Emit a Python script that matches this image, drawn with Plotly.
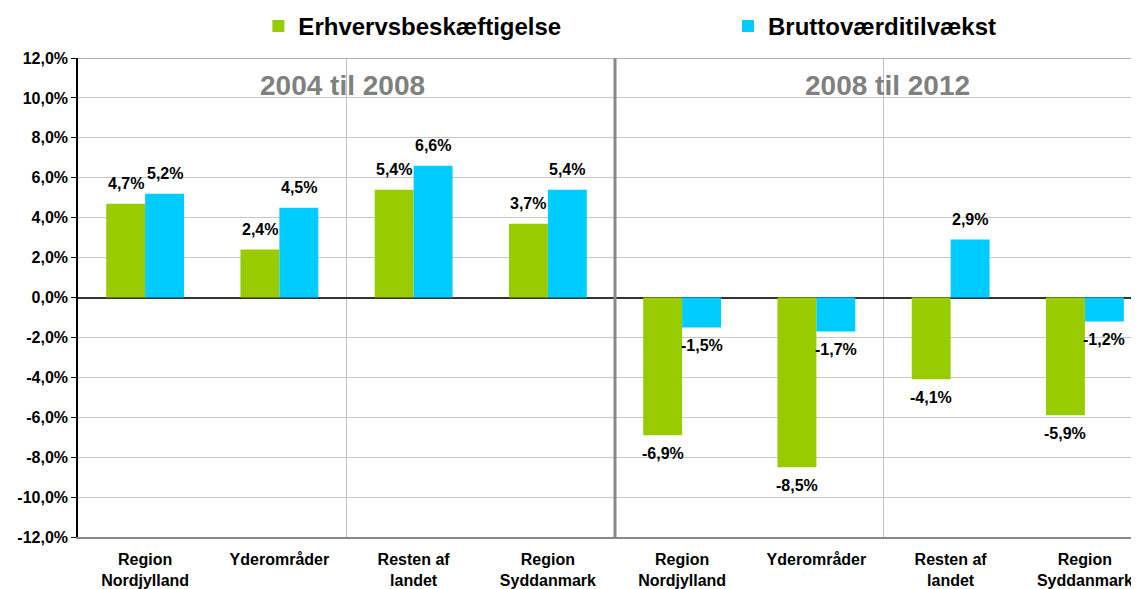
import plotly.graph_objects as go

categories = ["Region<br>Nordjylland", "Yderområder", "Resten af<br>landet", "Region<br>Syddanmark",
              "Region<br>Nordjylland", "Yderområder", "Resten af<br>landet", "Region<br>Syddanmark"]
erhverv = [4.7, 2.4, 5.4, 3.7, -6.9, -8.5, -4.1, -5.9]
brutto = [5.2, 4.5, 6.6, 5.4, -1.5, -1.7, 2.9, -1.2]
series_names = ["Erhvervsbeskæftigelse", "Bruttoværditilvækst"]
period_labels = ["2004 til 2008", "2008 til 2012"]
y_ticks = list(range(-12, 13, 2))

GREEN = "#99CC00"
BLUE = "#00CCFF"
FONT = "Liberation Sans, Arial, sans-serif"

def fmt(v):
    return f"{v:.1f}%".replace(".", ",")

xs = list(range(len(categories)))
fig = go.Figure()
fig.add_trace(go.Bar(x=xs, y=erhverv, name=series_names[0], marker_color=GREEN,
                     marker_line_width=0, legend="legend"))
fig.add_trace(go.Bar(x=xs, y=brutto, name=series_names[1], marker_color=BLUE,
                     marker_line_width=0, legend="legend2"))

bargap = 0.42
off = (1 - bargap) / 4
annotations = []
for vals, sign in ((erhverv, -1), (brutto, 1)):
    for i, v in enumerate(vals):
        annotations.append(dict(
            x=i + sign * off, y=v, xref="x", yref="y", text="<b>" + fmt(v) + "</b>",
            showarrow=False, yanchor="middle", yshift=20 if v >= 0 else -18,
            font=dict(family=FONT, size=16, color="black")))
for lbl, xp in zip(period_labels, (1.47, 5.53)):
    annotations.append(dict(x=xp, y=10.6, xref="x", yref="y", text="<b>" + lbl + "</b>",
                            showarrow=False, font=dict(family=FONT, size=28, color="#808080")))

shapes = []
for xv in (1.5, 5.5):
    shapes.append(dict(type="line", xref="x", yref="y", x0=xv, x1=xv, y0=-12, y1=12,
                       line=dict(color="#c0c0c0", width=1), layer="below"))
shapes.append(dict(type="line", xref="x", yref="y", x0=3.5, x1=3.5, y0=-12, y1=12,
                   line=dict(color="#888888", width=3), layer="above"))
shapes.append(dict(type="line", xref="paper", yref="y", x0=0, x1=1, y0=12, y1=12,
                   line=dict(color="#999999", width=1.5), layer="above"))

legend_common = dict(orientation="h", xanchor="left", y=1.113, yanchor="top",
                     font=dict(family=FONT, size=24, color="black", weight="bold"),
                     bgcolor="rgba(0,0,0,0)")

fig.update_layout(
    width=1131, height=581,
    margin=dict(l=70, r=0, t=50, b=52, autoexpand=False),
    paper_bgcolor="white", plot_bgcolor="white",
    barmode="group", bargap=bargap, bargroupgap=0,
    font=dict(family=FONT, color="black"),
    showlegend=True,
    legend=dict(x=0.17, **legend_common),
    legend2=dict(x=0.6126, **legend_common),
    annotations=annotations, shapes=shapes,
)
fig.update_xaxes(range=[-0.5, 7.403], tickvals=xs, ticktext=["<b>" + c + "</b>" for c in categories],
                 showgrid=False, zeroline=False, showline=True, linecolor="#888888", linewidth=1.5,
                 ticks="", ticklabelstandoff=7, automargin=False,
                 tickfont=dict(family=FONT, size=16, color="black"))
fig.update_yaxes(range=[-12, 12], tickvals=y_ticks, ticktext=["<b>" + fmt(v) + "</b>" for v in y_ticks],
                 showgrid=True, gridcolor="#c8c8c8", gridwidth=1,
                 zeroline=True, zerolinecolor="#333333", zerolinewidth=2,
                 showline=True, linecolor="black", linewidth=1.5,
                 ticks="outside", ticklen=5, tickcolor="black", automargin=False,
                 tickfont=dict(family=FONT, size=16, color="black"))

fig.write_html("out.html")
